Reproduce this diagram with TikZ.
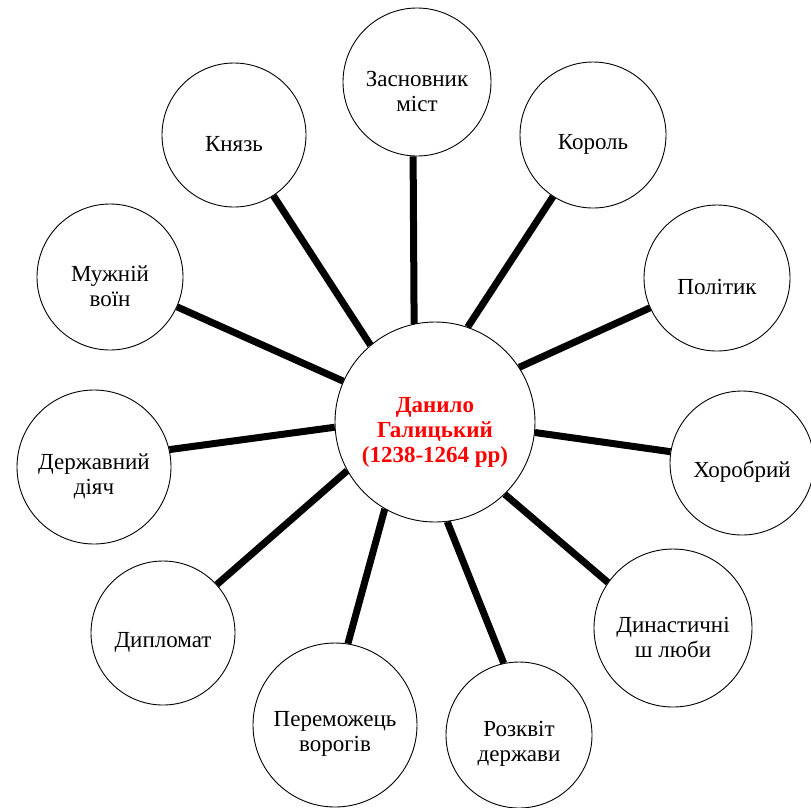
\documentclass[tikz,border=0pt]{standalone}
\usepackage{fontspec}
\setmainfont{Liberation Serif}
\usepackage{xcolor}
\usepackage{tikz}
\definecolor{daniloRed}{RGB}{255,0,0}

\begin{document}
\begin{tikzpicture}[x=1pt, y=-1pt,
  bubble/.style={circle, draw=black, line width=0.9pt, inner sep=0pt, minimum size=#1},
  bubble/.default=146pt,
  caption/.style={font=\fontsize{23}{25}\selectfont, align=center, yshift=-9pt},
  title/.style={font=\fontsize{23}{25}\selectfont\bfseries, text=daniloRed, align=center, yshift=-10pt},
  spoke/.style={line width=7pt}]
\useasboundingbox (0,0) rectangle (811,807);

\node[bubble=200pt, label={[title]center:Данило\\Галицький\\(1238-1264 рр)}] (danylo) at (435,422) {};

\node[bubble=148pt, label={[caption]center:Засновник\\міст}] (zasn) at (417,82) {};
\node[bubble, label={[caption]center:Король}] (korol) at (593,135) {};
\node[bubble, label={[caption]center:Політик}] (polityk) at (717,278) {};
\node[bubble=144pt, label={[caption]center:Хоробрий}] (khorob) at (742,463) {};
\node[bubble=158pt, label={[caption]center:Династичні\\ш люби}] (dynast) at (673,628) {};
\node[bubble, label={[caption]center:Розквіт\\держави}] (rozkvit) at (519,735) {};
\node[bubble=164pt, label={[caption]center:Переможець\\ворогів}] (peremoh) at (335,725) {};
\node[bubble=144pt, label={[caption]center:Дипломат}] (dyplom) at (163,633) {};
\node[bubble=154pt, label={[caption]center:Державний\\діяч}] (derzh) at (94,467) {};
\node[bubble, label={[caption]center:Мужній\\воїн}] (muzh) at (110,277) {};
\node[bubble=144pt, label={[caption]center:Князь}] (knyaz) at (234,135) {};

\foreach \a/\n/\b in {102.5/zasn/267, 71.2/korol/237.6, 33.2/polityk/204,
    -6.2/khorob/171.5, -46.2/dynast/145, 277.4/rozkvit/102.5,
    240.4/peremoh/81.5, 209.6/dyplom/42.3, 183.3/derzh/13.5,
    156.6/muzh/-24.8, 130.7/knyaz/-57.8}
  \draw[spoke] (danylo.\a) -- (\n.\b);
\end{tikzpicture}
\end{document}
